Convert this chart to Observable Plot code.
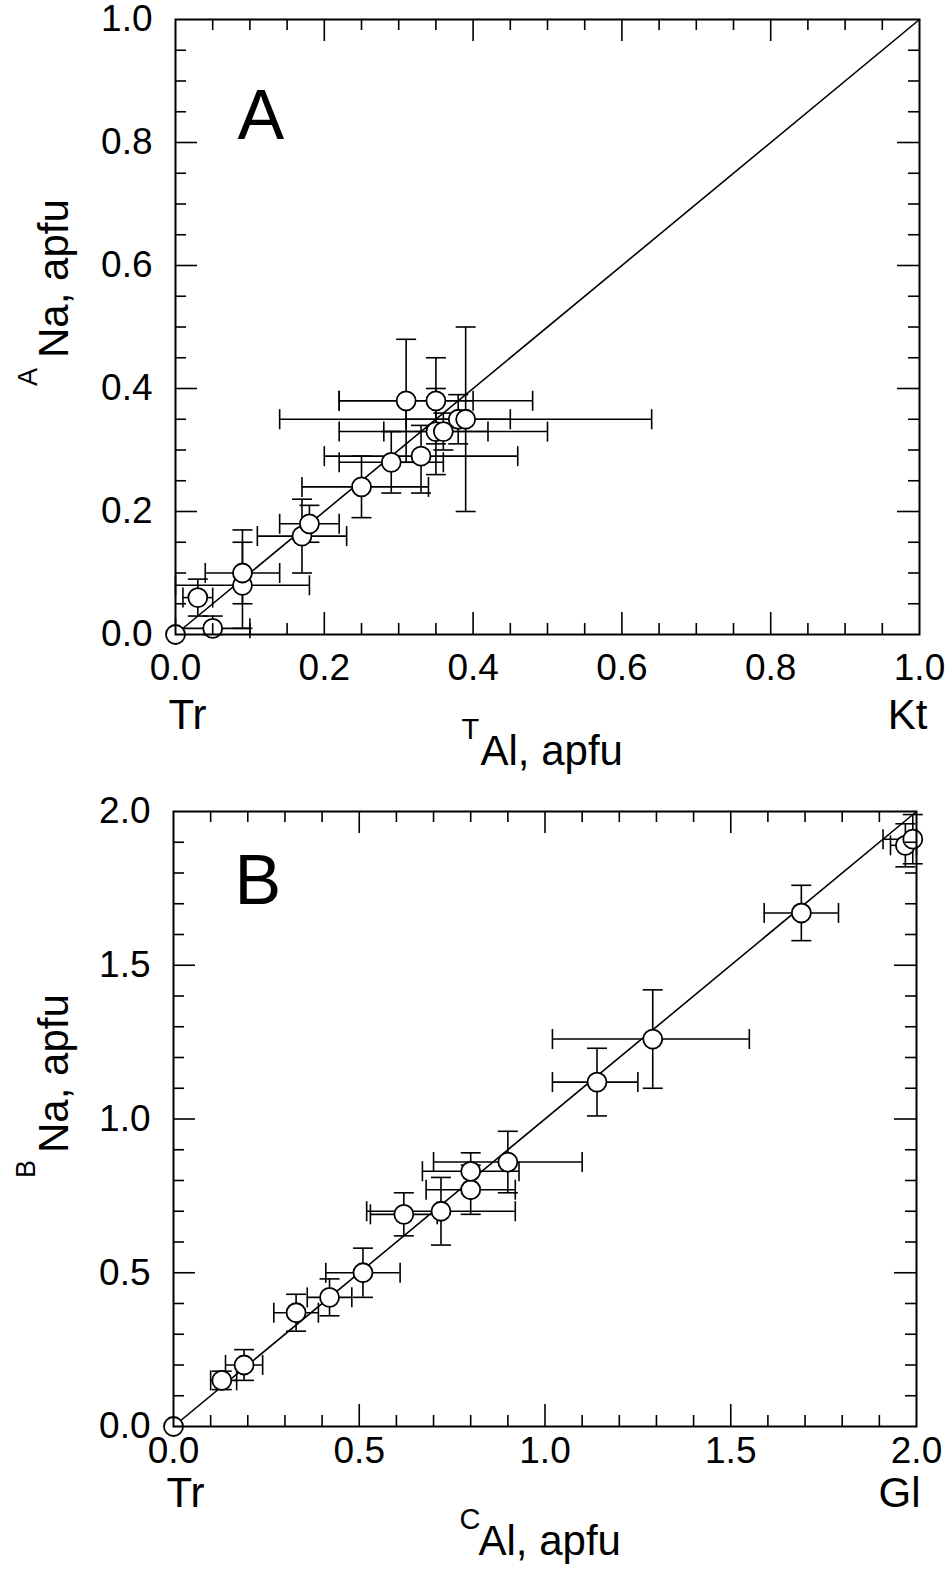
<!DOCTYPE html>
<html><head><meta charset="utf-8">
<script src="https://cdn.jsdelivr.net/npm/d3@7"></script>
<script src="https://cdn.jsdelivr.net/npm/@observablehq/plot@0.6"></script>
<style>
body{margin:0;background:#fff;}
#chart{width:952px;height:1570px;}
#chart svg{display:block;}
</style></head><body><div id="chart"></div>
<script>
// ---------- Panel A: TAl vs ANa ----------
const aX   = [0,    0.05, 0.03, 0.09, 0.09, 0.17, 0.18, 0.25, 0.29, 0.33, 0.31, 0.35, 0.35, 0.36, 0.38, 0.39];
const aY   = [0,    0.01, 0.06, 0.08, 0.10, 0.16, 0.18, 0.24, 0.28, 0.29, 0.38, 0.38, 0.33, 0.33, 0.35, 0.35];
const aXlo = [null, 0.00, 0.01, 0.00, 0.04, 0.11, 0.14, 0.17, 0.22, 0.20, 0.22, 0.22, 0.22, 0.28, 0.31, 0.14];
const aXhi = [null, 0.10, 0.05, 0.18, 0.14, 0.23, 0.22, 0.34, 0.36, 0.46, 0.40, 0.48, 0.50, 0.42, 0.45, 0.64];
const aYlo = [null, 0.00, 0.03, 0.01, 0.05, 0.10, 0.15, 0.19, 0.23, 0.23, 0.28, 0.31, 0.26, 0.30, 0.31, 0.20];
const aYhi = [null, 0.03, 0.09, 0.15, 0.17, 0.22, 0.21, 0.29, 0.33, 0.34, 0.48, 0.45, 0.40, 0.36, 0.39, 0.50];
const aLine = [0, 1];
const aTicks = [0, 0.2, 0.4, 0.6, 0.8, 1.0];
const aMinor = d3.range(1, 20).map(i => i * 0.05);
const aEnds = ["Tr", "Kt"];

// ---------- Panel B: CAl vs BNa ----------
const bX   = [0,    0.13, 0.19, 0.33, 0.42, 0.51, 0.62, 0.72, 0.80, 0.80, 0.90, 1.14, 1.29, 1.69, 1.97, 1.99];
const bY   = [0,    0.15, 0.20, 0.37, 0.42, 0.50, 0.69, 0.70, 0.77, 0.83, 0.86, 1.12, 1.26, 1.67, 1.89, 1.91];
const bXlo = [null, 0.10, 0.14, 0.27, 0.36, 0.41, 0.53, 0.52, 0.68, 0.67, 0.70, 1.02, 1.02, 1.59, 1.93, 1.91];
const bXhi = [null, 0.17, 0.24, 0.39, 0.48, 0.61, 0.71, 0.92, 0.92, 0.93, 1.10, 1.25, 1.55, 1.79, 2.00, 2.00];
const bYlo = [null, 0.12, 0.15, 0.31, 0.36, 0.42, 0.62, 0.59, 0.69, 0.77, 0.76, 1.01, 1.10, 1.58, 1.82, 1.83];
const bYhi = [null, 0.18, 0.25, 0.43, 0.48, 0.58, 0.76, 0.81, 0.85, 0.89, 0.96, 1.23, 1.42, 1.76, 1.96, 1.99];
const bLine = [0, 2];
const bTicks = [0, 0.5, 1.0, 1.5, 2.0];
const bMinor = d3.range(1, 20).map(i => i * 0.1);
const bEnds = ["Tr", "Gl"];

const FONT = "'Liberation Sans', Arial, Helvetica, sans-serif";
const capV = {draw(ctx, size) { const r = Math.sqrt(size / Math.PI); ctx.moveTo(0, -r); ctx.lineTo(0, r); }};
const capH = {draw(ctx, size) { const r = Math.sqrt(size / Math.PI); ctx.moveTo(-r, 0); ctx.lineTo(r, 0); }};

function panel(c) {
  const rows = c.x.map((x, i) => ({x, y: c.y[i], xlo: c.xlo[i], xhi: c.xhi[i], ylo: c.ylo[i], yhi: c.yhi[i]}));
  const bars = rows.filter(d => d.xlo != null);
  const W = 952 - c.ml - c.mr, H = c.height - c.mt - c.mb;
  const ink = {stroke: "black", strokeWidth: 1.6};
  const cap = {r: 10, fill: "none", ...ink};
  const minorX = c.minor.filter(v => !c.ticks.some(t => Math.abs(t - v) < 1e-9));
  const tickLen = (list, len) => [
    Plot.tickX(list, {x: d => d, insetTop: H - len, ...ink}),
    Plot.tickX(list, {x: d => d, insetBottom: H - len, ...ink}),
    Plot.tickY(list, {y: d => d, insetRight: W - len, ...ink}),
    Plot.tickY(list, {y: d => d, insetLeft: W - len, ...ink})
  ];
  const majors = c.ticks.slice(1, -1);
  return Plot.plot({
    width: 952, height: c.height,
    marginTop: c.mt, marginBottom: c.mb, marginLeft: c.ml, marginRight: c.mr,
    style: {fontFamily: FONT, color: "black", background: "white", overflow: "visible"},
    x: {domain: c.domain, label: null},
    y: {domain: c.domain, label: null},
    marks: [
      Plot.line(c.line, {x: d => d, y: d => d, stroke: "black", strokeWidth: 1.6}),
      Plot.ruleY(bars, {y: "y", x1: "xlo", x2: "xhi", ...ink}),
      Plot.ruleX(bars, {x: "x", y1: "ylo", y2: "yhi", ...ink}),
      Plot.dot(bars, {x: "xlo", y: "y", symbol: capV, ...cap}),
      Plot.dot(bars, {x: "xhi", y: "y", symbol: capV, ...cap}),
      Plot.dot(bars, {x: "x", y: "ylo", symbol: capH, ...cap}),
      Plot.dot(bars, {x: "x", y: "yhi", symbol: capH, ...cap}),
      Plot.dot(rows, {x: "x", y: "y", r: 9.5, fill: "white", stroke: "black", strokeWidth: 1.8}),
      ...tickLen(minorX, 11),
      ...tickLen(majors, 22),
      Plot.frame({stroke: "black", strokeWidth: 2}),
      Plot.axisX(c.ticks, {anchor: "bottom", tickSize: 0, tickPadding: c.xPad, tickFormat: d3.format(".1f"), fontSize: 37, label: null}),
      Plot.axisY(c.ticks, {anchor: "left", tickSize: 0, tickPadding: 23, tickFormat: d3.format(".1f"), fontSize: 37, label: null}),
      Plot.text([c.letter], {frameAnchor: "top-left", dx: c.letterDx, dy: c.letterDy, fontSize: 70, textAnchor: "start", lineAnchor: "bottom"}),
      Plot.text([c.ends[0]], {frameAnchor: "bottom-left", dx: -7, dy: c.endDy, fontSize: 42, textAnchor: "start", lineAnchor: "bottom"}),
      Plot.text([c.ends[1]], {frameAnchor: "bottom-right", dx: c.endDx, dy: c.endDy, fontSize: 42, textAnchor: "end", lineAnchor: "bottom"}),
      // x axis title with superscript
      Plot.text([c.xSup], {frameAnchor: "bottom-left", dx: 286, dy: c.titleDy - 26, fontSize: 29, textAnchor: "start", lineAnchor: "bottom"}),
      Plot.text(["Al, apfu"], {frameAnchor: "bottom-left", dx: 305, dy: c.titleDy, fontSize: 42, textAnchor: "start", lineAnchor: "bottom"}),
      // y axis title with superscript (rotated)
      Plot.text([c.ySup], {frameAnchor: "left", dx: c.ySupDx, dy: c.ySupDy, rotate: -90, fontSize: 27, textAnchor: "start", lineAnchor: "bottom"}),
      Plot.text(["Na, apfu"], {frameAnchor: "left", dx: c.yTitleDx, dy: c.yTitleDy, rotate: -90, fontSize: 42, textAnchor: "start", lineAnchor: "bottom"})
    ]
  });
}

const chart = document.getElementById("chart");
chart.append(panel({
  x: aX, y: aY, xlo: aXlo, xhi: aXhi, ylo: aYlo, yhi: aYhi,
  line: aLine, ticks: aTicks, minor: aMinor, domain: [0, 1], ends: aEnds,
  height: 785, mt: 19, mb: 151, ml: 175, mr: 33,
  xPad: 19, letter: "A", letterDx: 62, letterDy: 119,
  endDy: 94, endDx: 8, titleDy: 130, xSup: "T",
  ySup: "A", ySupDx: -139, ySupDy: 59, yTitleDx: -108, yTitleDy: 31
}));
chart.append(panel({
  x: bX, y: bY, xlo: bXlo, xhi: bXhi, ylo: bYlo, yhi: bYhi,
  line: bLine, ticks: bTicks, minor: bMinor, domain: [0, 2], ends: bEnds,
  height: 785, mt: 26, mb: 144, ml: 173, mr: 36,
  xPad: 10, letter: "B", letterDx: 61, letterDy: 92,
  endDy: 80, endDx: 4, titleDy: 128, xSup: "C",
  ySup: "B", ySupDx: -139, ySupDy: 59, yTitleDx: -106, yTitleDy: 34
}));
</script>
</body></html>
